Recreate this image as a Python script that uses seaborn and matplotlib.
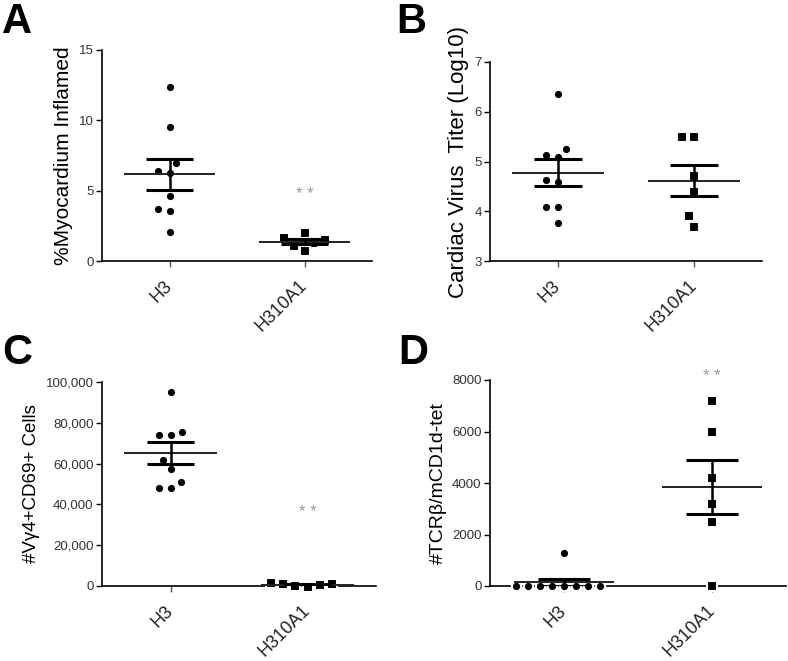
import numpy as np
import pandas as pd
import matplotlib
matplotlib.use("Agg")
import matplotlib.pyplot as plt
import seaborn as sns
from matplotlib.ticker import FuncFormatter

groups = ["H3", "H310A1"]

a_h3 = [12.35, 9.55, 6.94, 6.37, 6.28, 4.62, 3.67, 3.55, 2.04]
a_h310a1 = [2.0, 1.6, 1.5, 1.3, 1.1, 0.7]

b_h3 = [6.36, 5.26, 5.14, 5.09, 4.62, 4.59, 4.08, 4.08, 3.77]
b_h310a1 = [5.5, 5.5, 4.71, 4.39, 3.9, 3.69]

c_h3 = [95200, 75700, 74100, 74100, 61800, 57500, 51100, 48200, 48200]
c_h310a1 = [1400, 1200, 1100, 500, 100, -400]

d_h3 = [1300, 0, 0, 0, 0, 0, 0, 0, 0]
d_h310a1 = [7200, 6000, 4200, 3200, 2500, 0]

sns.set_theme(style="ticks")
plt.rcParams["font.family"] = ["Liberation Sans", "DejaVu Sans"]

fig = plt.figure(figsize=(7.88, 6.61), dpi=100)

W, H = 788.0, 661.0


def make_ax(left, top, right, bottom):
    return fig.add_axes([left / W, 1 - bottom / H, (right - left) / W, (bottom - top) / H])


def panel(ax, h3, h310, ylabel, ylim, yticks, star_y, ylabel_size, fmt=None):
    df = pd.DataFrame({"group": ["H3"] * len(h3) + ["H310A1"] * len(h310),
                       "value": list(h3) + list(h310)})
    sns.swarmplot(data=df[df.group == "H3"], x="group", y="value", order=groups,
                  marker="o", color="black", size=6.7, edgecolor="white",
                  linewidth=1.5, ax=ax, zorder=3)
    sns.swarmplot(data=df[df.group == "H310A1"], x="group", y="value", order=groups,
                  marker="s", color="black", size=6.9, edgecolor="white",
                  linewidth=1.5, ax=ax, zorder=3)
    for coll in ax.collections:
        coll.set_clip_on(False)
    for i, vals in enumerate([h3, h310]):
        v = np.asarray(vals, dtype=float)
        m = v.mean()
        se = v.std(ddof=1) / np.sqrt(len(v))
        ax.hlines(m, i - 0.34, i + 0.34, color="#222222", lw=1.4, zorder=5)
        ax.hlines([m - se, m + se], i - 0.175, i + 0.175, color="black", lw=2.2, zorder=5)
        ax.vlines(i, m - se, m + se, color="black", lw=1.8, zorder=5)
    if star_y is not None:
        ax.text(1, star_y, "* *", color="#999999", ha="center", va="center", fontsize=12)
    ax.set_xlim(-0.5, 1.5)
    ax.set_ylim(*ylim)
    ax.set_yticks(yticks)
    if fmt is not None:
        ax.yaxis.set_major_formatter(fmt)
    ax.set_xlabel("")
    ax.set_ylabel(ylabel, fontsize=ylabel_size, color="black", labelpad=4)
    ax.set_xticks([0, 1])
    ax.set_xticklabels(groups, rotation=45, ha="right", va="center",
                       rotation_mode="anchor", fontsize=13, color="#222222")
    ax.tick_params(axis="y", labelsize=9.5, labelcolor="#333333", length=4, width=1,
                   color="black", pad=2)
    ax.tick_params(axis="x", length=4, width=1, color="#555555", pad=12)
    for s in ["top", "right"]:
        ax.spines[s].set_visible(False)
    for s in ["left", "bottom"]:
        ax.spines[s].set_color("black")
        ax.spines[s].set_linewidth(1.2)


axA = make_ax(102, 50, 372, 261)
panel(axA, a_h3, a_h310a1, "%Myocardium Inflamed", (0, 15), [0, 5, 10, 15], 4.7, 15)

axB = make_ax(490, 62, 762, 261)
panel(axB, b_h3, b_h310a1, "Cardiac Virus  Titer (Log10)", (3, 7), [3, 4, 5, 6, 7], None, 16)

axC = make_ax(102, 382, 376, 586)
panel(axC, c_h3, c_h310a1, "#V\u03b34+CD69+ Cells", (0, 100000),
      [0, 20000, 40000, 60000, 80000, 100000], 35800, 13.5,
      fmt=FuncFormatter(lambda v, p: f"{int(v):,}"))

axD = make_ax(490, 380, 786, 586)
panel(axD, d_h3, d_h310a1, "#TCR\u03b2/mCD1d-tet", (0, 8000),
      [0, 2000, 4000, 6000, 8000], 8150, 14)

for letter, x, y in [("A", 2, 2), ("B", 396, 2), ("C", 2, 333), ("D", 398, 333)]:
    fig.text(x / W, 1 - y / H, letter, fontsize=30, fontweight="bold",
             ha="left", va="top", color="black")

fig.savefig("out.png", dpi=100)
